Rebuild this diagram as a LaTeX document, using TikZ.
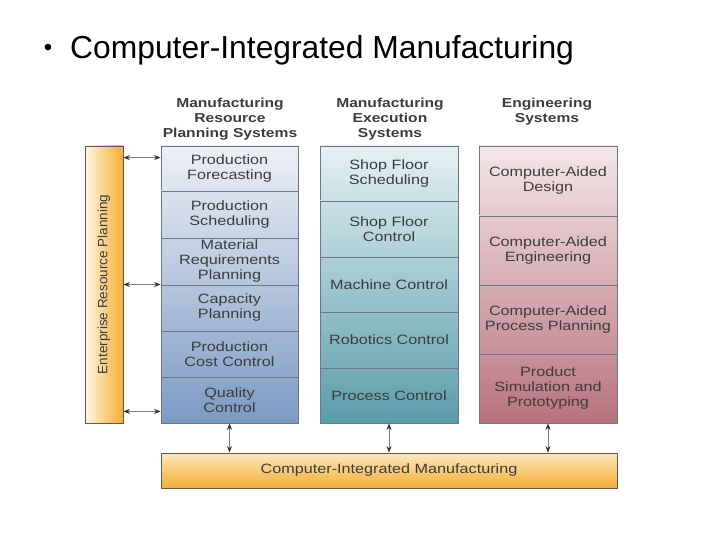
\documentclass[tikz,border=0pt]{standalone}
\usepackage{fontspec}
\setmainfont{Liberation Sans}
\newfontfamily\wideface[FakeStretch=1.2]{Liberation Sans}
\usetikzlibrary{positioning,arrows.meta}

\definecolor{mrptop}{HTML}{EDF0F6}
\definecolor{mrpbot}{HTML}{7C9AC3}
\definecolor{mestop}{HTML}{E4F1F3}
\definecolor{mesbot}{HTML}{5A9CAA}
\definecolor{engtop}{HTML}{F4E7E9}
\definecolor{engbot}{HTML}{B8737D}
\definecolor{orlight}{HTML}{FFF6E2}
\definecolor{ordark}{HTML}{F5AE33}
\definecolor{boxline}{HTML}{6E7885}
\definecolor{txtgray}{HTML}{3C3C3C}
\definecolor{arrgray}{HTML}{7A7A7A}

\begin{document}
\begin{tikzpicture}[x=1pt,y=-1pt,
    box/.style={draw=boxline,line width=0.8pt,minimum width=138pt,align=center,
        text=txtgray,inner sep=0pt,font=\wideface\fontsize{13.5}{15}\selectfont},
    hdr/.style={align=center,text=txtgray,inner sep=0pt,
        font=\wideface\bfseries\fontsize{13}{15}\selectfont},
    arr/.style={{Stealth[length=6.5pt,width=5pt,color=black!80]}-{Stealth[length=6.5pt,width=5pt,color=black!80]},
        draw=arrgray,line width=0.9pt}]

\useasboundingbox (0,0) rectangle (720,540);

% title
\node (dot) at (48,50) {\fontsize{24}{26}\selectfont\textbullet};
\node[anchor=base west,inner sep=0pt] (title) at (70,59)
    {\fontsize{31.8}{34}\selectfont Computer-Integrated Manufacturing};

% column headers
\node[hdr] (mrph) at (230,119) {Manufacturing\\Resource\\Planning Systems};
\node[hdr] (mesh) at (390,119) {Manufacturing\\Execution\\Systems};
\node[hdr] (engh) at (547,111.5) {Engineering\\Systems};

% MRP column
\foreach \nm/\ya/\yb/\txt in {pf/146/191/{Production\\Forecasting},
        ps/191/238/{Production\\Scheduling},
        mr/238/285/{Material\\Requirements\\Planning},
        cp/285/331/{Capacity\\Planning},
        pc/331/377/{Production\\Cost Control},
        qc/377/423/{Quality\\Control}}{
    \pgfmathsetmacro\pa{100-(\ya-146)/2.77}
    \pgfmathsetmacro\pb{100-(\yb-146)/2.77}
    \node[box,minimum width=137pt,minimum height={\yb-\ya},top color=mrptop!\pa!mrpbot,
        bottom color=mrptop!\pb!mrpbot] (\nm) at (229.5,{(\ya+\yb)/2}) {\txt};
}

% MES column
\foreach \nm/\ya/\yb/\txt in {sf/146/201/{Shop Floor\\Scheduling},
        sc/201/257/{Shop Floor\\Control},
        mc/257/312/{Machine Control},
        rc/312/368/{Robotics Control},
        prc/368/423/{Process Control}}{
    \pgfmathsetmacro\pa{100-(\ya-146)/2.77}
    \pgfmathsetmacro\pb{100-(\yb-146)/2.77}
    \node[box,minimum height={\yb-\ya},top color=mestop!\pa!mesbot,
        bottom color=mestop!\pb!mesbot] (\nm) at (389,{(\ya+\yb)/2}) {\txt};
}

% engineering column
\foreach \nm/\ya/\yb/\txt in {cad/146/216/{Computer-Aided\\Design},
        cae/216/285/{Computer-Aided\\Engineering},
        capp/285/354/{Computer-Aided\\Process Planning},
        psp/354/423/{Product\\Simulation and\\Prototyping}}{
    \pgfmathsetmacro\pa{100-(\ya-146)/2.77}
    \pgfmathsetmacro\pb{100-(\yb-146)/2.77}
    \node[box,minimum height={\yb-\ya},top color=engtop!\pa!engbot,
        bottom color=engtop!\pb!engbot] (\nm) at (548,{(\ya+\yb)/2}) {\txt};
}

% ERP bar
\node[draw=black!65,line width=0.8pt,minimum width=38pt,minimum height=277pt,inner sep=0pt,
    left color=orlight,right color=ordark] (erp) at (104,284.5) {};
\node[rotate=90,text=txtgray,font=\fontsize{13.5}{15}\selectfont] (erptxt) at (erp)
    {Enterprise Resource Planning};

% CIM bar
\node[box,draw=black!65,minimum width=456pt,minimum height=35pt,top color=orlight!80!ordark,
    bottom color=ordark] (cim) at (389,470.5) {Computer-Integrated Manufacturing};

% arrows
\draw[arr] ([yshift=-12pt]erp.north east) -- ([yshift=-12pt]pf.north west);
\draw[arr] (erp.east) -- (erp.east -| mr.south west);
\draw[arr] ([yshift=12pt]erp.south east) -- ([yshift=12pt]qc.south west);
\draw[arr] (qc.south) -- (qc.south |- cim.north);
\draw[arr] (prc.south) -- (prc.south |- cim.north);
\draw[arr] (psp.south) -- (psp.south |- cim.north);
\end{tikzpicture}
\end{document}
